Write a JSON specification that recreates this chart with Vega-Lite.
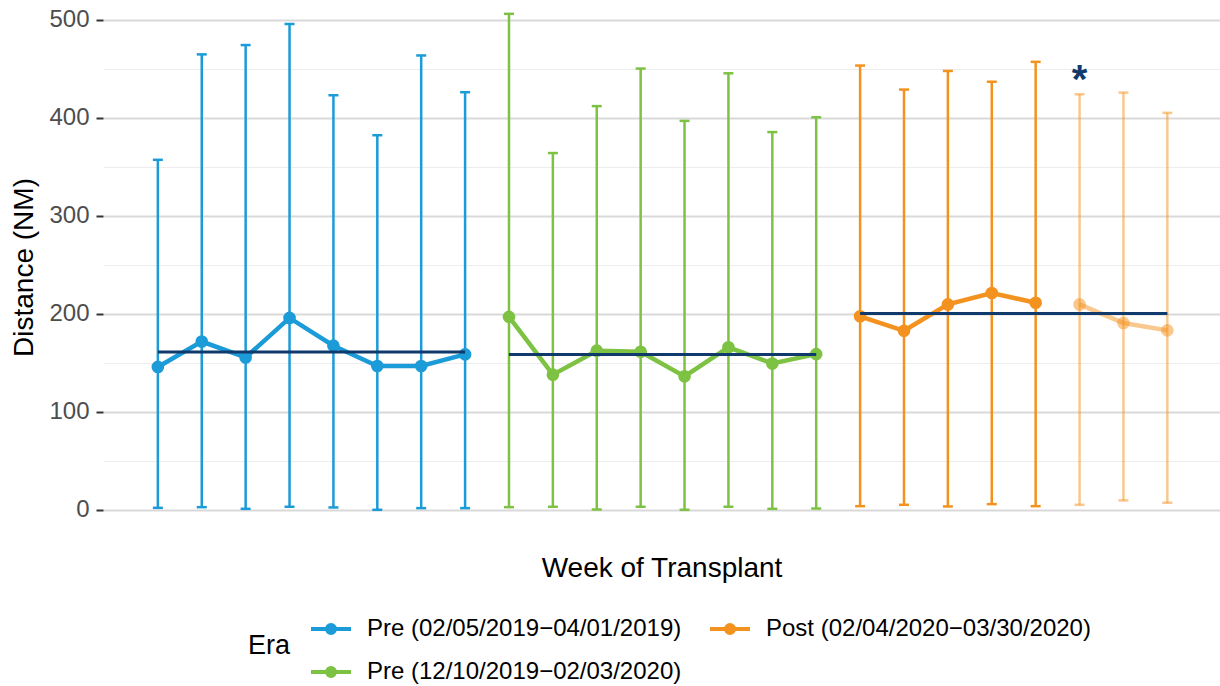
{
  "$schema": "https://vega.github.io/schema/vega-lite/v6.json",
  "width": 1117,
  "height": 534,
  "autosize": {"type": "none"},
  "padding": {"left": 103, "top": 0, "right": 0, "bottom": 152},
  "background": "white",
  "config": {
    "view": {"stroke": null},
    "font": "Liberation Sans",
    "axis": {"labelFont": "Liberation Sans", "titleFont": "Liberation Sans", "titleFontWeight": "normal"},
    "legend": {"labelFont": "Liberation Sans", "titleFont": "Liberation Sans", "titleFontWeight": "normal"}
  },
  "datasets": {
    "weeks": [
      {"week": 1, "era": "Pre (02/05/2019−04/01/2019)", "status": "observed", "mean": 145.5, "low": 1.7, "high": 356.9},
      {"week": 2, "era": "Pre (02/05/2019−04/01/2019)", "status": "observed", "mean": 171.4, "low": 2.4, "high": 464.5},
      {"week": 3, "era": "Pre (02/05/2019−04/01/2019)", "status": "observed", "mean": 155.2, "low": 0.7, "high": 474.0},
      {"week": 4, "era": "Pre (02/05/2019−04/01/2019)", "status": "observed", "mean": 195.5, "low": 2.8, "high": 495.5},
      {"week": 5, "era": "Pre (02/05/2019−04/01/2019)", "status": "observed", "mean": 167.2, "low": 2.1, "high": 422.8},
      {"week": 6, "era": "Pre (02/05/2019−04/01/2019)", "status": "observed", "mean": 146.5, "low": -0.3, "high": 382.0},
      {"week": 7, "era": "Pre (02/05/2019−04/01/2019)", "status": "observed", "mean": 146.5, "low": 1.4, "high": 463.4},
      {"week": 8, "era": "Pre (02/05/2019−04/01/2019)", "status": "observed", "mean": 158.3, "low": 1.4, "high": 425.9},
      {"week": 9, "era": "Pre (12/10/2019−02/03/2020)", "status": "observed", "mean": 196.6, "low": 2.4, "high": 505.9},
      {"week": 10, "era": "Pre (12/10/2019−02/03/2020)", "status": "observed", "mean": 137.6, "low": 2.8, "high": 363.8},
      {"week": 11, "era": "Pre (12/10/2019−02/03/2020)", "status": "observed", "mean": 162.1, "low": 0.0, "high": 411.7},
      {"week": 12, "era": "Pre (12/10/2019−02/03/2020)", "status": "observed", "mean": 161.0, "low": 2.8, "high": 450.0},
      {"week": 13, "era": "Pre (12/10/2019−02/03/2020)", "status": "observed", "mean": 135.9, "low": -0.3, "high": 396.6},
      {"week": 14, "era": "Pre (12/10/2019−02/03/2020)", "status": "observed", "mean": 165.5, "low": 2.8, "high": 445.2},
      {"week": 15, "era": "Pre (12/10/2019−02/03/2020)", "status": "observed", "mean": 149.0, "low": 0.7, "high": 385.2},
      {"week": 16, "era": "Pre (12/10/2019−02/03/2020)", "status": "observed", "mean": 158.6, "low": 1.0, "high": 400.3},
      {"week": 17, "era": "Post (02/04/2020−03/30/2020)", "status": "observed", "mean": 197.2, "low": 3.4, "high": 453.1},
      {"week": 18, "era": "Post (02/04/2020−03/30/2020)", "status": "observed", "mean": 182.4, "low": 4.8, "high": 428.6},
      {"week": 19, "era": "Post (02/04/2020−03/30/2020)", "status": "observed", "mean": 209.3, "low": 3.1, "high": 447.6},
      {"week": 20, "era": "Post (02/04/2020−03/30/2020)", "status": "observed", "mean": 221.0, "low": 5.5, "high": 436.6},
      {"week": 21, "era": "Post (02/04/2020−03/30/2020)", "status": "observed", "mean": 211.0, "low": 3.4, "high": 456.9},
      {"week": 22, "era": "Post (02/04/2020−03/30/2020)", "status": "projected", "mean": 209.3, "low": 4.8, "high": 423.8},
      {"week": 23, "era": "Post (02/04/2020−03/30/2020)", "status": "projected", "mean": 190.3, "low": 9.3, "high": 425.5},
      {"week": 24, "era": "Post (02/04/2020−03/30/2020)", "status": "projected", "mean": 182.8, "low": 6.9, "high": 404.8}
    ],
    "eraMeans": [
      {"era": "Pre (02/05/2019−04/01/2019)", "start": 1, "end": 8, "mean": 160.7},
      {"era": "Pre (12/10/2019−02/03/2020)", "start": 9, "end": 16, "mean": 158.3},
      {"era": "Post (02/04/2020−03/30/2020)", "start": 17, "end": 24, "mean": 200.0}
    ],
    "notes": [
      {"week": 22, "value": 440, "label": "*"}
    ]
  },
  "encoding": {
    "x": {
      "field": "week", "type": "quantitative",
      "scale": {"domain": [-0.25, 25.2], "nice": false, "zero": false},
      "axis": {"title": "Week of Transplant", "labels": false, "ticks": false, "domain": false, "grid": false, "titleFontSize": 28, "titleColor": "black", "titlePadding": 20}
    }
  },
  "layer": [
    {
      "data": {"values": [{"v": 0}]},
      "mark": {"type": "point", "opacity": 0},
      "encoding": {
        "x": {"datum": 1, "type": "quantitative"},
        "y": {
          "field": "v", "type": "quantitative",
          "scale": {"domain": [-25, 520], "nice": false, "zero": false},
          "axis": {"orient": "right", "values": [50, 150, 250, 350, 450], "labels": false, "ticks": false, "domain": false, "title": null, "grid": true, "gridColor": "#ededed", "gridWidth": 1}
        }
      }
    },
    {
      "layer": [
        {
          "data": {"name": "weeks"},
          "mark": {"type": "rule", "strokeWidth": 2.5},
          "encoding": {
            "y": {
              "field": "low", "type": "quantitative",
              "scale": {"domain": [-25, 520], "nice": false, "zero": false},
              "axis": {"orient": "left", "values": [0, 100, 200, 300, 400, 500], "title": "Distance (NM)", "titleFontSize": 28, "titleColor": "black", "titlePadding": 10, "labelFontSize": 24, "labelColor": "#4d4d4d", "labelPadding": 7, "tickColor": "#333333", "tickSize": 7, "tickWidth": 2, "domain": false, "grid": true, "gridColor": "#d9d9d9", "gridWidth": 2}
            },
            "y2": {"field": "high"},
            "color": {"field": "era", "type": "nominal"},
            "opacity": {"field": "status", "type": "nominal", "scale": {"domain": ["observed", "projected"], "range": [1, 0.5]}, "legend": null}
          }
        },
        {
          "data": {"name": "weeks"},
          "mark": {"type": "tick", "orient": "horizontal", "size": 10, "thickness": 2.5},
          "encoding": {
            "y": {"field": "low", "type": "quantitative"},
            "color": {"field": "era", "type": "nominal"},
            "opacity": {"field": "status", "type": "nominal", "legend": null}
          }
        },
        {
          "data": {"name": "weeks"},
          "mark": {"type": "tick", "orient": "horizontal", "size": 10, "thickness": 2.5},
          "encoding": {
            "y": {"field": "high", "type": "quantitative"},
            "color": {"field": "era", "type": "nominal"},
            "opacity": {"field": "status", "type": "nominal", "legend": null}
          }
        },
        {
          "data": {"name": "weeks"},
          "mark": {"type": "line", "strokeWidth": 4.5},
          "encoding": {
            "y": {"field": "mean", "type": "quantitative"},
            "color": {"field": "era", "type": "nominal"},
            "detail": {"field": "status"},
            "opacity": {"field": "status", "type": "nominal", "legend": null}
          }
        },
        {
          "data": {"name": "weeks"},
          "mark": {"type": "circle", "size": 160},
          "encoding": {
            "y": {"field": "mean", "type": "quantitative"},
            "color": {
              "field": "era", "type": "nominal",
              "scale": {
                "domain": ["Pre (02/05/2019−04/01/2019)", "Post (02/04/2020−03/30/2020)", "Pre (12/10/2019−02/03/2020)"],
                "range": ["#1b9bd7", "#f4921f", "#7dc243"]
              },
              "legend": {
                "title": "Era",
                "orient": "none",
                "legendX": 145,
                "legendY": 607,
                "direction": "horizontal",
                "columns": 2,
                "titleOrient": "left",
                "titleAnchor": "middle",
                "titleFontSize": 27,
                "titleColor": "black",
                "titlePadding": 18,
                "labelFontSize": 24,
                "labelColor": "black",
                "labelLimit": 600,
                "labelOffset": 14,
                "columnPadding": 20,
                "rowPadding": 9,
                "symbolOpacity": 1,
                "symbolType": "M-1,0H1M-0.2,0A0.2,0.2,0,1,0,0.2,0A0.2,0.2,0,1,0,-0.2,0Z",
                "symbolSize": 1600,
                "symbolStrokeWidth": 4,
                "encode": {
                  "symbols": {
                    "update": {
                      "fill": {"scale": "color", "field": "value"},
                      "stroke": {"scale": "color", "field": "value"},
                      "strokeWidth": {"value": 4},
                      "opacity": {"value": 1},
                      "fillOpacity": {"value": 1},
                      "strokeOpacity": {"value": 1}
                    }
                  }
                }
              }
            },
            "opacity": {"field": "status", "type": "nominal", "legend": null}
          }
        },
        {
          "data": {"name": "eraMeans"},
          "mark": {"type": "rule", "strokeWidth": 3, "color": "#0f3a6b"},
          "encoding": {
            "x": {"field": "start", "type": "quantitative"},
            "x2": {"field": "end"},
            "y": {"field": "mean", "type": "quantitative"}
          }
        },
        {
          "data": {"name": "notes"},
          "mark": {"type": "text", "fontSize": 40, "fontWeight": "bold", "color": "#0f3a6b", "baseline": "middle", "align": "center", "dy": 3},
          "encoding": {
            "x": {"field": "week", "type": "quantitative"},
            "y": {"field": "value", "type": "quantitative"},
            "text": {"field": "label"}
          }
        }
      ]
    }
  ],
  "resolve": {"axis": {"y": "independent"}}
}
